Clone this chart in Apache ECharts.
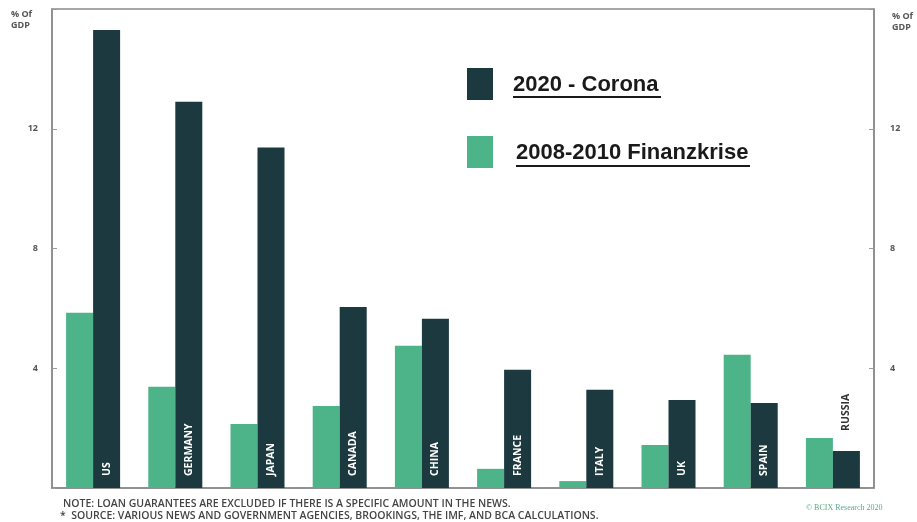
<!DOCTYPE html>
<html>
<head>
<meta charset="UTF-8">
<title>Fiscal stimulus % of GDP</title>
<script src="https://cdn.jsdelivr.net/npm/echarts@6/dist/echarts.min.js"></script>
<style>
body { margin: 0; padding: 0; background: #fff; }
#main { width: 917px; height: 522px; }
</style>
</head>
<body>
<div id="main"></div>
<script>
// countries and values (% of GDP)
var countries = ['US', 'GERMANY', 'JAPAN', 'CANADA', 'CHINA', 'FRANCE', 'ITALY', 'UK', 'SPAIN', 'RUSSIA'];
var crisis2008 = [5.85, 3.38, 2.14, 2.74, 4.75, 0.64, 0.23, 1.44, 4.45, 1.67];
var corona2020 = [15.3, 12.9, 11.37, 6.05, 5.65, 3.95, 3.28, 2.94, 2.84, 1.24];
var yTicks = [4, 8, 12];

var darkCol = '#1b393e';
var greenCol = '#4db389';

var chart = echarts.init(document.getElementById('main'));

var coronaData = corona2020.map(function (v, i) {
  var d = { value: v };
  if (countries[i] == 'RUSSIA') {
    d.label = { position: 'top', color: '#333', distance: 20 };
  }
  return d;
});

function yAxisDef(pos) {
  return {
    type: 'value',
    position: pos,
    min: 0, max: 16, interval: 4,
    axisLine: { show: true, lineStyle: { color: '#8a8a8a', width: 1.5 } },
    axisTick: { show: true, inside: true, length: 5, lineStyle: { color: '#999' } },
    splitLine: { show: false },
    axisLabel: {
      color: '#555', fontSize: 9, fontWeight: 'bold', margin: pos == 'left' ? 14 : 16,
      fontFamily: 'Open Sans',
      formatter: function (v) { return yTicks.indexOf(v) >= 0 ? v : ''; }
    }
  };
}

var option = {
  animation: false,
  grid: { left: 52, right: 43, top: 9, bottom: 34, show: true, borderColor: '#8a8a8a', borderWidth: 1.5 },
  xAxis: {
    type: 'category',
    data: countries,
    axisLine: { lineStyle: { color: '#8a8a8a', width: 1.5 } },
    axisTick: { show: false },
    axisLabel: { show: false }
  },
  yAxis: [yAxisDef('left'), yAxisDef('right')],
  series: [
    {
      name: '2008-2010 Finanzkrise',
      type: 'bar',
      data: crisis2008,
      barWidth: 27,
      barGap: '0%',
      itemStyle: { color: greenCol }
    },
    {
      name: '2020 - Corona',
      type: 'bar',
      data: coronaData,
      barWidth: 27,
      itemStyle: { color: darkCol },
      label: {
        show: true,
        position: 'insideBottom',
        rotate: 90,
        align: 'left',
        verticalAlign: 'middle',
        distance: 12,
        color: '#fff',
        fontSize: 10.5,
        fontWeight: 'bold',
        fontFamily: 'Open Sans',
        formatter: function (p) { return p.name; }
      }
    }
  ],
  graphic: [
    { type: 'text', left: 11, top: 9, style: { text: '% Of\nGDP', fill: '#555', font: 'bold 9px "Open Sans"', lineHeight: 11 } },
    { type: 'text', left: 892, top: 11, style: { text: '% Of\nGDP', fill: '#555', font: 'bold 9px "Open Sans"', lineHeight: 11 } },
    // legend
    { type: 'rect', shape: { x: 467, y: 68, width: 26, height: 32 }, style: { fill: darkCol } },
    { type: 'text', x: 513, y: 85, style: { text: '2020 - Corona', fill: '#1a1a1a', font: 'bold 22px "Liberation Sans"', verticalAlign: 'middle' } },
    { type: 'line', shape: { x1: 513, y1: 97, x2: 661, y2: 97 }, style: { stroke: '#1a1a1a', lineWidth: 2 } },
    { type: 'rect', shape: { x: 467, y: 136, width: 26, height: 32 }, style: { fill: greenCol } },
    { type: 'text', x: 516, y: 153, style: { text: '2008-2010 Finanzkrise', fill: '#1a1a1a', font: 'bold 22px "Liberation Sans"', verticalAlign: 'middle' } },
    { type: 'line', shape: { x1: 516, y1: 166, x2: 750, y2: 166 }, style: { stroke: '#1a1a1a', lineWidth: 2 } },
    // footer
    { type: 'text', x: 63, y: 504, style: { text: 'NOTE: LOAN GUARANTEES ARE EXCLUDED IF THERE IS A SPECIFIC AMOUNT IN THE NEWS.', fill: '#444', font: '600 10.5px "Open Sans"', verticalAlign: 'middle' } },
    { type: 'text', x: 60, y: 516, style: { text: '*  SOURCE: VARIOUS NEWS AND GOVERNMENT AGENCIES, BROOKINGS, THE IMF, AND BCA CALCULATIONS.', fill: '#444', font: '600 10.5px "Open Sans"', verticalAlign: 'middle' } },
    { type: 'text', x: 806, y: 508, style: { text: '\u00a9 BCIX Research 2020', fill: '#5aa98a', font: '8px "Liberation Serif"', verticalAlign: 'middle' } }
  ]
};
chart.setOption(option);
</script>
</body>
</html>
